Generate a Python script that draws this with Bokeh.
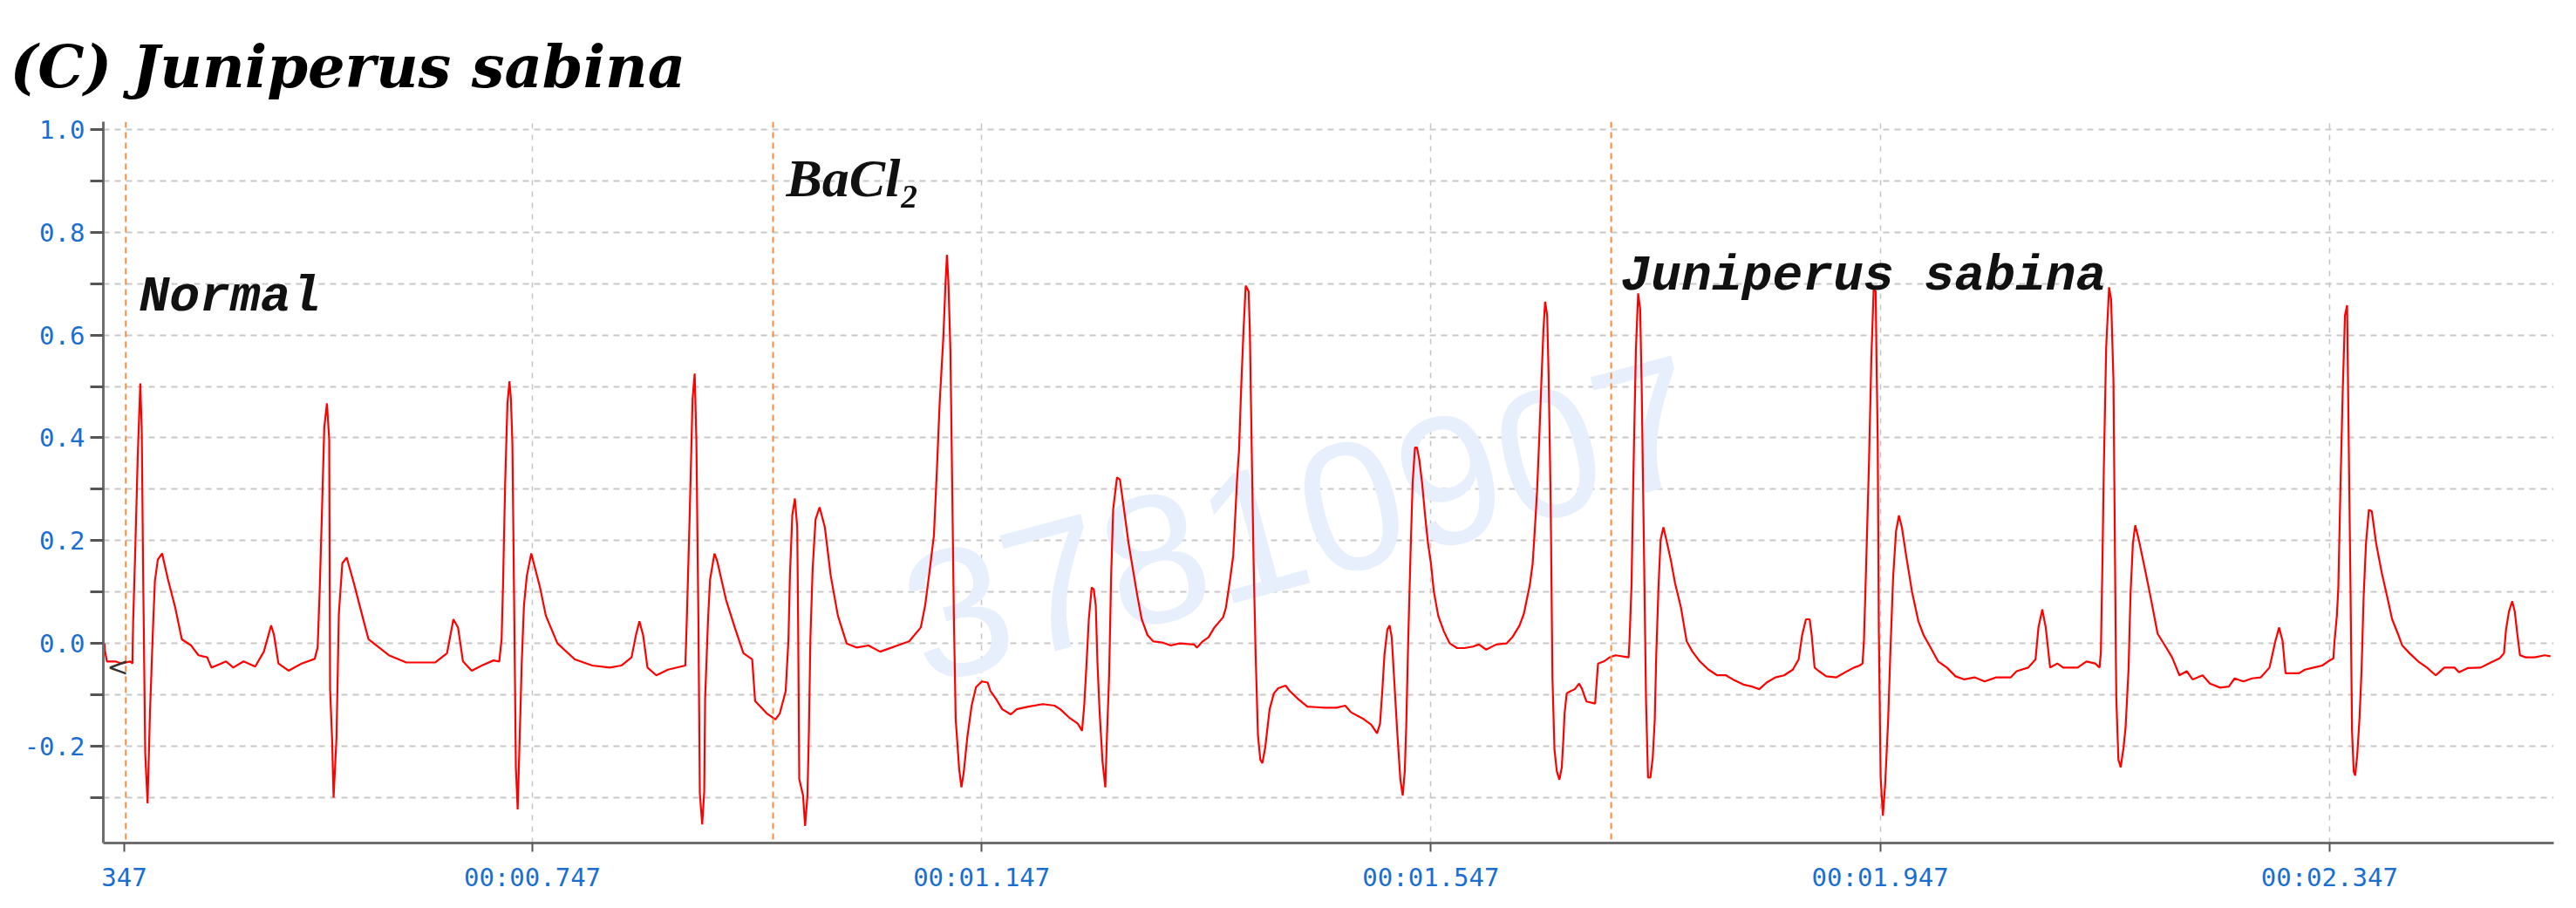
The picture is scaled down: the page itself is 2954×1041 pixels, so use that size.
from bokeh.plotting import figure
from bokeh.models import Range1d, FixedTicker, PrintfTickFormatter, Span, Label, Title
from bokeh.embed import file_html
from bokeh.resources import INLINE

# ---------------- data (time in s, signal value) ----------------
normal_t = [0.3660, 0.3664, 0.3682, 0.3759, 0.3811, 0.3889, 0.3909, 0.3915, 0.3935, 0.3956,
            0.3979, 0.3992, 0.4005, 0.4023, 0.4044, 0.4065, 0.4091, 0.4109, 0.4135, 0.4173,
            0.4225, 0.4290, 0.4349, 0.4432, 0.4497, 0.4575, 0.4613, 0.4743, 0.4807, 0.4898,
            0.5002, 0.5079, 0.5144, 0.5170, 0.5209, 0.5299, 0.5416, 0.5532, 0.5558, 0.5576,
            0.5597, 0.5617, 0.5641, 0.5661, 0.5669, 0.5687, 0.5700, 0.5726, 0.5747, 0.5778,
            0.5817, 0.5881, 0.5946, 0.6011, 0.6192, 0.6347, 0.6606, 0.6710, 0.6767, 0.6808,
            0.6852, 0.6930, 0.7020, 0.7124, 0.7175, 0.7196, 0.7209, 0.7227, 0.7248, 0.7266,
            0.7279, 0.7292, 0.7310, 0.7323, 0.7339, 0.7357, 0.7375, 0.7395, 0.7421, 0.7460,
            0.7538, 0.7590, 0.7693, 0.7848, 0.8004, 0.8159, 0.8262, 0.8353, 0.8392, 0.8423,
            0.8456, 0.8495, 0.8573, 0.8677, 0.8832, 0.8845, 0.8871, 0.8896, 0.8915, 0.8930,
            0.8948, 0.8961, 0.8982, 0.9000, 0.9008, 0.9034, 0.9052, 0.9091, 0.9116, 0.9194,
            0.9272, 0.9349, 0.9427, 0.9453, 0.9556]
normal_v = [0.000, -0.014, -0.035, -0.035, -0.039, -0.035, -0.039, 0.039, 0.187, 0.362,
            0.506, 0.416, 0.125, -0.214, -0.311, -0.136, 0.023, 0.121, 0.163, 0.175,
            0.125, 0.070, 0.008, -0.004, -0.023, -0.027, -0.047, -0.035, -0.047, -0.035,
            -0.045, -0.016, 0.035, 0.016, -0.039, -0.053, -0.039, -0.030, -0.008, 0.101,
            0.260, 0.420, 0.467, 0.397, -0.090, -0.187, -0.300, -0.183, 0.058, 0.156,
            0.167, 0.117, 0.062, 0.008, -0.023, -0.037, -0.037, -0.019, 0.047, 0.031,
            -0.035, -0.053, -0.043, -0.033, -0.035, 0.008, 0.117, 0.307, 0.467, 0.510,
            0.475, 0.389, 0.031, -0.241, -0.323, -0.183, -0.039, 0.074, 0.132, 0.175,
            0.109, 0.054, 0.000, -0.031, -0.043, -0.047, -0.043, -0.027, 0.016, 0.043,
            0.016, -0.047, -0.062, -0.051, -0.043, 0.047, 0.253, 0.475, 0.525, 0.397,
            0.047, -0.292, -0.352, -0.288, -0.107, 0.047, 0.124, 0.175, 0.160, 0.085,
            0.031, -0.019, -0.031, -0.112, -0.136]

bacl2_t = [0.9634, 0.9673, 0.9725, 0.9750, 0.9763, 0.9784, 0.9807, 0.9828, 0.9836, 0.9846,
           0.9880, 0.9898, 0.9919, 0.9932, 0.9945, 0.9965, 0.9991, 1.0027, 1.0074, 1.0126,
           1.0190, 1.0268, 1.0359, 1.0462, 1.0566, 1.0721, 1.0825, 1.0928, 1.0967, 1.1006,
           1.1045, 1.1071, 1.1096, 1.1130, 1.1148, 1.1161, 1.1174, 1.1192, 1.1208, 1.1223,
           1.1239, 1.1270, 1.1290, 1.1311, 1.1342, 1.1381, 1.1420, 1.1472, 1.1523, 1.1549,
           1.1601, 1.1653, 1.1730, 1.1782, 1.1886, 1.2015, 1.2119, 1.2170, 1.2248, 1.2326,
           1.2364, 1.2383, 1.2403, 1.2424, 1.2450, 1.2468, 1.2486, 1.2502, 1.2520, 1.2546,
           1.2571, 1.2584, 1.2605, 1.2623, 1.2641, 1.2675, 1.2701, 1.2740, 1.2778, 1.2817,
           1.2856, 1.2895, 1.2947, 1.2998, 1.3076, 1.3154, 1.3231, 1.3361, 1.3387, 1.3438,
           1.3490, 1.3542, 1.3620, 1.3645, 1.3684, 1.3710, 1.3728, 1.3744, 1.3762, 1.3780,
           1.3801, 1.3821, 1.3847, 1.3858, 1.3873, 1.3891, 1.3909, 1.3930, 1.3951, 1.3969,
           1.3995, 1.4034, 1.4072, 1.4111, 1.4176, 1.4215, 1.4292, 1.4370, 1.4448, 1.4525,
           1.4629, 1.4707, 1.4758, 1.4862, 1.4939, 1.4991, 1.5017, 1.5038, 1.5056, 1.5082,
           1.5102, 1.5121, 1.5146, 1.5172, 1.5198, 1.5219, 1.5237, 1.5250, 1.5268, 1.5289,
           1.5307, 1.5328, 1.5346, 1.5366, 1.5392, 1.5418, 1.5444, 1.5470, 1.5496, 1.5535,
           1.5586, 1.5638, 1.5703, 1.5768, 1.5845, 1.5897, 1.5962, 1.6052, 1.6143, 1.6195,
           1.6259, 1.6298, 1.6324, 1.6350, 1.6376, 1.6394, 1.6415, 1.6435, 1.6453, 1.6472,
           1.6487, 1.6505, 1.6518, 1.6536, 1.6552, 1.6570, 1.6591, 1.6614, 1.6635, 1.6648,
           1.6660, 1.6679, 1.6712, 1.6751, 1.6790, 1.6816, 1.6855, 1.6932, 1.6945, 1.6958,
           1.7010, 1.7062]
bacl2_v = [-0.148, -0.136, -0.093, 0.008, 0.132, 0.249, 0.282, 0.226, 0.039, -0.264,
           -0.296, -0.355, -0.296, -0.171, 0.008, 0.144, 0.241, 0.265, 0.226, 0.132,
           0.054, 0.000, -0.008, -0.004, -0.016, -0.004, 0.004, 0.031, 0.074, 0.140,
           0.210, 0.335, 0.467, 0.600, 0.700, 0.756, 0.703, 0.568, 0.303, 0.047,
           -0.148, -0.245, -0.280, -0.250, -0.183, -0.121, -0.085, -0.074, -0.076, -0.093,
           -0.109, -0.128, -0.138, -0.128, -0.123, -0.118, -0.121, -0.128, -0.144, -0.156,
           -0.170, -0.121, -0.043, 0.047, 0.109, 0.105, 0.074, -0.043, -0.132, -0.230,
           -0.280, -0.191, -0.062, 0.132, 0.261, 0.323, 0.319, 0.257, 0.195, 0.144,
           0.093, 0.047, 0.016, 0.004, 0.002, -0.004, 0.000, -0.002, -0.008, 0.004,
           0.012, 0.031, 0.051, 0.070, 0.128, 0.171, 0.249, 0.319, 0.377, 0.494,
           0.607, 0.696, 0.685, 0.607, 0.397, 0.163, -0.019, -0.179, -0.226, -0.233,
           -0.202, -0.128, -0.097, -0.087, -0.082, -0.093, -0.109, -0.123, -0.124, -0.125,
           -0.125, -0.121, -0.134, -0.146, -0.158, -0.175, -0.156, -0.089, -0.023, 0.027,
           0.035, 0.012, -0.082, -0.179, -0.265, -0.296, -0.249, -0.163, 0.008, 0.179,
           0.311, 0.381, 0.381, 0.358, 0.311, 0.249, 0.195, 0.156, 0.101, 0.054,
           0.023, 0.000, -0.009, -0.009, -0.006, -0.002, -0.012, -0.002, 0.000, 0.012,
           0.035, 0.058, 0.086, 0.113, 0.156, 0.218, 0.296, 0.401, 0.506, 0.611,
           0.665, 0.638, 0.521, 0.280, -0.067, -0.207, -0.249, -0.265, -0.241, -0.191,
           -0.136, -0.097, -0.093, -0.089, -0.078, -0.089, -0.113, -0.117, -0.078, -0.039,
           -0.035, -0.027]

juniper_t = [1.7113, 1.7230, 1.7238, 1.7256, 1.7274, 1.7295, 1.7315, 1.7333, 1.7346, 1.7367,
             1.7385, 1.7403, 1.7424, 1.7445, 1.7463, 1.7476, 1.7496, 1.7515, 1.7540, 1.7566,
             1.7605, 1.7644, 1.7696, 1.7747, 1.7799, 1.7864, 1.7942, 1.8019, 1.8097, 1.8174,
             1.8252, 1.8330, 1.8394, 1.8459, 1.8537, 1.8614, 1.8692, 1.8744, 1.8775, 1.8809,
             1.8842, 1.8860, 1.8886, 1.8925, 1.8990, 1.9080, 1.9184, 1.9236, 1.9287, 1.9313,
             1.9326, 1.9344, 1.9370, 1.9391, 1.9412, 1.9430, 1.9437, 1.9448, 1.9458, 1.9474,
             1.9494, 1.9515, 1.9541, 1.9559, 1.9585, 1.9611, 1.9637, 1.9663, 1.9701, 1.9753,
             1.9810, 1.9857, 1.9908, 1.9986, 2.0064, 2.0141, 2.0219, 2.0310, 2.0400, 2.0504,
             2.0633, 2.0685, 2.0788, 2.0853, 2.0879, 2.0913, 2.0944, 2.0983, 2.1047, 2.1099,
             2.1228, 2.1306, 2.1384, 2.1423, 2.1435, 2.1448, 2.1461, 2.1482, 2.1508, 2.1526,
             2.1547, 2.1560, 2.1572, 2.1591, 2.1611, 2.1637, 2.1655, 2.1681, 2.1699, 2.1720,
             2.1741, 2.1772, 2.1824, 2.1875, 2.1940, 2.2005, 2.2069, 2.2134, 2.2199, 2.2251,
             2.2341, 2.2406, 2.2496, 2.2574, 2.2626, 2.2704, 2.2781, 2.2859, 2.2936, 2.2988,
             2.3022, 2.3053, 2.3079, 2.3130, 2.3199, 2.3251, 2.3329, 2.3406, 2.3458, 2.3505,
             2.3515, 2.3536, 2.3549, 2.3567, 2.3588, 2.3608, 2.3627, 2.3639, 2.3658, 2.3671,
             2.3686, 2.3699, 2.3717, 2.3738, 2.3756, 2.3774, 2.3795, 2.3821, 2.3847, 2.3886,
             2.3937, 2.3989, 2.4028, 2.4079, 2.4118, 2.4183, 2.4260, 2.4338, 2.4416, 2.4493,
             2.4584, 2.4623, 2.4700, 2.4817, 2.4907, 2.4985, 2.5024, 2.5042, 2.5068, 2.5097,
             2.5120, 2.5140, 2.5166, 2.5218, 2.5296, 2.5386, 2.5438]
juniper_v = [-0.023, -0.027, 0.004, 0.113, 0.342, 0.572, 0.681, 0.650, 0.506, 0.179,
             -0.109, -0.261, -0.261, -0.222, -0.148, -0.023, 0.109, 0.202, 0.226, 0.202,
             0.163, 0.117, 0.070, 0.004, -0.016, -0.035, -0.051, -0.062, -0.062, -0.072,
             -0.080, -0.084, -0.089, -0.076, -0.066, -0.062, -0.051, -0.031, 0.016, 0.047,
             0.047, 0.016, -0.047, -0.054, -0.064, -0.066, -0.053, -0.047, -0.043, -0.039,
             0.009, 0.144, 0.350, 0.553, 0.689, 0.685, 0.556, 0.393, 0.023, -0.261,
             -0.335, -0.272, -0.148, -0.027, 0.128, 0.218, 0.249, 0.226, 0.171, 0.101,
             0.043, 0.016, -0.004, -0.035, -0.047, -0.064, -0.070, -0.066, -0.074, -0.066,
             -0.066, -0.054, -0.047, -0.031, 0.031, 0.066, 0.031, -0.047, -0.039, -0.047,
             -0.047, -0.035, -0.039, -0.047, -0.016, 0.148, 0.339, 0.576, 0.693, 0.669,
             0.510, 0.179, -0.105, -0.226, -0.241, -0.202, -0.163, -0.051, 0.097, 0.195,
             0.230, 0.202, 0.148, 0.093, 0.019, -0.004, -0.027, -0.062, -0.054, -0.070,
             -0.062, -0.078, -0.086, -0.084, -0.068, -0.074, -0.068, -0.066, -0.047, 0.004,
             0.031, 0.004, -0.058, -0.058, -0.058, -0.051, -0.047, -0.043, -0.035, -0.029,
             0.004, 0.054, 0.109, 0.296, 0.490, 0.638, 0.658, 0.436, 0.097, -0.171,
             -0.249, -0.257, -0.218, -0.144, -0.051, 0.089, 0.194, 0.260, 0.257, 0.194,
             0.136, 0.086, 0.047, 0.019, -0.004, -0.019, -0.035, -0.047, -0.062, -0.047,
             -0.047, -0.056, -0.048, -0.047, -0.037, -0.029, -0.019, 0.027, 0.062, 0.082,
             0.062, 0.023, -0.023, -0.027, -0.027, -0.023, -0.025]

event_t = [0.3850, 0.9613, 1.7075]          # orange marker lines
phase_labels = ["Normal", "BaCl\u2082", "Juniperus sabina"]

# x tick labels ("347" is the left-clipped remainder of 00:00.347 at the plot edge)
x_ticks = [0.3836, 0.747, 1.147, 1.547, 1.947, 2.347]
x_tick_labels = ["347", "00:00.747", "00:01.147", "00:01.547", "00:01.947", "00:02.347"]
x_grid_ticks = [0.747, 1.147, 1.547, 1.947, 2.347]
y_ticks = [-0.2, 0.0, 0.2, 0.4, 0.6, 0.8, 1.0]
y_minor_ticks = [-0.3, -0.1, 0.1, 0.3, 0.5, 0.7, 0.9]

title_text = "(C) Juniperus sabina"
watermark = "37810907"

# ---------------- main chart ----------------
t_all = normal_t + bacl2_t + juniper_t
v_all = normal_v + bacl2_v + juniper_v

p = figure(width=2938, height=1025,
           x_range=Range1d(0.3650, 2.5467), y_range=Range1d(-0.3883, 1.0151),
           output_backend="svg", toolbar_location=None,
           min_border_left=118, min_border_right=10,
           min_border_top=139, min_border_bottom=58)
p.outline_line_color = None
p.background_fill_color = "white"
p.border_fill_color = "white"

p.add_layout(Title(text=title_text, align="left", offset=-107, standoff=47,
                   text_font="DejaVu Serif", text_font_size="67px",
                   text_font_style="bold italic", text_color="black"), "above")

BLUE = "#1a6ecf"

xt = FixedTicker(ticks=x_ticks, minor_ticks=[])
yt = FixedTicker(ticks=y_ticks, minor_ticks=y_minor_ticks)
p.xaxis.ticker = xt
p.yaxis.ticker = yt
p.xgrid.ticker = FixedTicker(ticks=x_grid_ticks, minor_ticks=[])
p.ygrid.ticker = yt

p.xaxis.major_label_overrides = {k: s for k, s in zip(x_ticks, x_tick_labels)}
p.yaxis.formatter = PrintfTickFormatter(format="%.1f")

for ax in (p.xaxis[0], p.yaxis[0]):
    ax.axis_line_color = "#6e6e6e"
    ax.axis_line_width = 3
    ax.major_tick_in = 0
    ax.minor_tick_in = 0
    ax.major_tick_line_color = "#555555"
    ax.minor_tick_line_color = "#555555"
    ax.major_tick_line_width = 3
    ax.minor_tick_line_width = 3
    ax.major_label_text_font = "DejaVu Sans Mono"
    ax.major_label_text_font_size = "29px"
    ax.major_label_text_color = BLUE

p.xaxis.major_tick_out = 10
p.xaxis.major_tick_line_width = 2
p.xaxis.minor_tick_out = 0
p.xaxis.major_label_standoff = 12
p.yaxis.major_tick_out = 15
p.yaxis.minor_tick_out = 15
p.yaxis.major_label_standoff = 6

p.xgrid.grid_line_color = "#c4c4c4"
p.xgrid.grid_line_dash = "6 7"
p.xgrid.grid_line_width = 1.5
p.ygrid.grid_line_color = "#c8c8c8"
p.ygrid.grid_line_dash = "7 6"
p.ygrid.grid_line_width = 2
p.ygrid.minor_grid_line_color = "#c8c8c8"
p.ygrid.minor_grid_line_dash = "7 6"
p.ygrid.minor_grid_line_width = 2

# watermark (behind trace)
p.add_layout(Label(x=1375, y=371, x_units="screen", y_units="screen", text=watermark,
                   text_font="Liberation Sans", text_font_size="210px", text_color="#e6effb",
                   text_align="center", text_baseline="middle", angle=15, angle_units="deg",
                   level="underlay"))

for et in event_t:
    p.add_layout(Span(location=et, dimension="height", line_color="#ff8a3d",
                      line_dash="7 5", line_width=2))

p.line(t_all, v_all, line_color="#ff0000", line_width=2.2)

# phase labels
label_pos = [(41, 626), (783, 763), (1740, 650)]
label_fonts = ["Liberation Mono", "Liberation Serif", "Liberation Mono"]
label_sizes = ["58px", "62px", "58px"]
for txt, (lx, ly), fnt, fs in zip(phase_labels, label_pos, label_fonts, label_sizes):
    p.add_layout(Label(x=lx, y=ly, x_units="screen", y_units="screen", text=txt,
                       text_font=fnt, text_font_size=fs, text_font_style="bold italic",
                       text_color="#111111", text_baseline="alphabetic", text_align="left"))

# small cursor marker at the left edge
p.add_layout(Label(x=4, y=202, x_units="screen", y_units="screen", text="<",
                   text_font="DejaVu Sans", text_font_size="30px", text_color="#333333",
                   text_baseline="middle", text_align="left"))

open("out.html", "w").write(file_html(p, INLINE))
